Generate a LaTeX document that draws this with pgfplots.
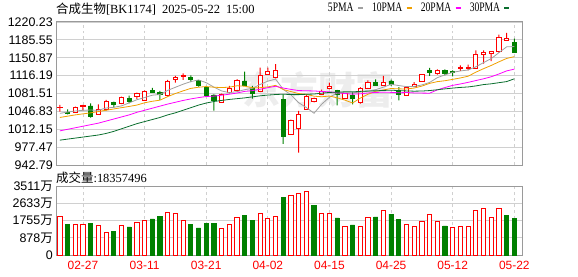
\documentclass[border=0pt]{standalone}
\usepackage{pgfplots}
\pgfplotsset{compat=1.18}
\usepackage{pgfplotstable}
\usepackage{fontspec}
\setmainfont{Liberation Serif}
\newfontfamily\cjk{Noto Sans CJK SC}
\newfontfamily\narrow[FakeStretch=0.74]{Liberation Serif}
\newfontfamily\tickfont{Liberation Sans}

\definecolor{kred}{HTML}{FF0000}
\definecolor{kgreen}{HTML}{008000}
\definecolor{maA}{HTML}{A0A0A0}
\definecolor{maB}{HTML}{F0A000}
\definecolor{maC}{HTML}{FF00FF}
\definecolor{maD}{HTML}{0A6E2E}
\definecolor{gridc}{HTML}{D0D0D0}
\definecolor{framec}{HTML}{9A9A9A}

% red (rising) candles: index, open, high, low, close
\pgfplotstableread{
i O H L C
0 1053.5 1059.2 1046.3 1054.5
2 1045.6 1056.0 1044.3 1054.7
3 1056.0 1059.2 1048.2 1058.6
5 1041.1 1060.5 1040.5 1051.4
6 1050.8 1068.9 1048.2 1065.7
8 1062.4 1075.4 1061.1 1073.4
10 1075.4 1083.1 1070.8 1081.8
11 1068.9 1087.7 1067.6 1086.4
14 1077.3 1107.7 1075.4 1105.1
15 1109.6 1115.5 1102.5 1112.2
16 1114.8 1120.6 1107.7 1116.1
21 1065.0 1081.2 1063.7 1079.2
22 1083.1 1096.1 1081.8 1091.5
23 1088.3 1109.6 1086.4 1107.7
26 1086.4 1131.6 1084.4 1116.8
27 1119.3 1131.6 1118.0 1123.9
28 1112.9 1138.7 1110.9 1127.1
30 1002.4 1031.0 1001.0 1029.5
31 1013.2 1047.6 966.7 1040.4
32 1050.8 1078.6 1049.5 1076.7
33 1066.4 1073.4 1064.4 1071.4
34 1080.0 1089.0 1078.6 1086.4
35 1090.9 1102.5 1089.6 1096.1
37 1071.4 1082.0 1070.8 1081.0
39 1065.0 1094.1 1061.8 1092.2
40 1092.2 1107.1 1091.0 1103.8
42 1097.4 1115.5 1096.1 1103.8
45 1078.0 1095.4 1076.7 1094.1
46 1095.4 1103.8 1094.1 1098.6
47 1105.1 1119.3 1104.5 1118.7
49 1120.0 1128.4 1118.0 1126.5
52 1129.6 1136.2 1125.2 1131.6
53 1131.0 1137.5 1126.5 1132.9
54 1131.0 1165.3 1129.7 1157.5
55 1156.9 1165.3 1139.4 1162.0
56 1158.8 1162.5 1144.1 1162.5
57 1163.3 1195.7 1160.7 1190.0
58 1184.7 1198.9 1183.4 1188.8
}\redK

% green (falling) candles
\pgfplotstableread{
i O H L C
1 1045.6 1050.8 1041.1 1043.0
4 1057.3 1062.4 1034.6 1036.6
7 1064.4 1065.7 1054.7 1060.5
9 1071.5 1077.3 1062.4 1065.7
12 1087.0 1092.2 1083.1 1083.8
13 1083.1 1086.4 1068.9 1080.5
17 1112.2 1116.8 1103.8 1109.0
18 1107.1 1107.7 1094.8 1096.7
19 1093.5 1096.1 1075.4 1078.6
20 1078.6 1079.9 1048.2 1068.9
24 1105.8 1123.9 1096.1 1097.4
25 1091.5 1096.1 1071.5 1081.8
29 1070.8 1079.9 984.0 997.8
36 1087.7 1088.3 1058.6 1080.5
38 1078.0 1084.4 1060.5 1071.4
41 1103.8 1109.0 1096.1 1097.4
43 1105.8 1108.4 1096.1 1099.4
44 1087.7 1094.1 1068.2 1079.9
48 1126.5 1131.0 1115.5 1123.2
50 1126.5 1128.4 1116.8 1121.3
51 1124.5 1126.5 1114.8 1123.2
59 1181.4 1187.9 1160.7 1160.7
}\greenK

% moving averages
\pgfplotstableread{
i m5 m10 m20 m30
0 1043.0 1035.0 1009.0 991.0
1 1045.5 1037.5 1012.0 993.0
2 1047.5 1040.0 1015.0 995.0
3 1049.0 1042.0 1018.0 997.0
4 1049.4 1044.0 1021.0 999.0
5 1048.9 1046.5 1024.0 1001.0
6 1053.4 1049.0 1028.0 1004.0
7 1054.6 1051.5 1032.0 1008.0
8 1057.5 1054.0 1036.0 1013.0
9 1063.3 1056.4 1040.0 1018.0
10 1069.4 1059.1 1045.0 1023.0
11 1073.6 1063.5 1049.0 1027.0
12 1078.2 1066.4 1053.0 1031.0
13 1079.6 1068.6 1057.0 1035.0
14 1087.5 1075.4 1061.0 1040.0
15 1093.6 1081.5 1064.5 1044.0
16 1099.5 1086.6 1068.0 1049.0
17 1104.6 1091.4 1071.0 1054.0
18 1107.8 1093.7 1073.5 1059.0
19 1102.5 1095.0 1075.7 1063.0
20 1093.9 1093.7 1076.4 1066.0
21 1086.5 1093.0 1078.2 1068.0
22 1083.0 1093.8 1080.1 1070.0
23 1085.2 1096.5 1082.5 1071.5
24 1088.9 1095.7 1085.6 1073.0
25 1091.5 1092.7 1087.1 1075.0
26 1099.0 1092.8 1089.7 1077.0
27 1105.5 1094.3 1092.8 1078.5
28 1109.4 1097.3 1095.5 1079.5
29 1089.5 1089.2 1092.1 1080.2
30 1079.0 1085.3 1089.5 1079.4
31 1063.7 1081.4 1087.2 1079.3
32 1054.3 1079.9 1086.8 1080.0
33 1043.2 1076.3 1086.4 1080.5
34 1060.9 1075.2 1085.5 1082.1
35 1074.2 1076.6 1084.7 1083.6
36 1082.4 1073.1 1082.9 1084.1
37 1083.0 1068.7 1081.5 1084.8
38 1083.0 1063.1 1080.2 1084.7
39 1084.2 1072.5 1080.9 1085.6
40 1085.7 1080.0 1082.6 1086.3
41 1089.0 1085.7 1083.5 1086.7
42 1093.7 1088.4 1084.1 1087.4
43 1099.3 1091.2 1083.7 1088.0
44 1096.9 1090.5 1082.9 1087.1
45 1094.9 1090.3 1083.5 1086.5
46 1095.2 1092.1 1082.6 1086.0
47 1098.1 1095.9 1082.3 1086.3
48 1102.9 1101.1 1082.1 1087.2
49 1112.2 1104.5 1088.5 1088.8
50 1117.7 1106.3 1093.1 1090.5
51 1122.6 1108.9 1097.3 1092.0
52 1125.2 1111.7 1100.0 1093.3
53 1127.1 1115.0 1103.1 1094.2
54 1133.3 1122.8 1106.6 1096.2
55 1141.4 1129.6 1110.0 1098.8
56 1149.2 1135.9 1114.0 1100.3
57 1160.7 1142.9 1119.4 1102.5
58 1172.0 1149.5 1125.3 1104.6
59 1172.6 1153.0 1128.8 1110.0
}\maT

% volume (10k shares), red = close up vs previous close
\pgfplotstableread{
i v
0 1967
2 1560
3 1560
5 1510
6 1153
8 1510
10 1679
11 1781
14 2171
15 2120
16 1781
21 1357
22 1560
23 1917
26 2120
27 1866
28 1967
30 3036
31 3138
32 3240
34 2120
35 2120
37 1459
39 1459
40 1917
42 2273
45 1560
46 1459
47 1713
48 2069
49 1713
51 1408
52 1459
53 1459
54 2273
55 2375
56 1917
57 2375
}\redV

\pgfplotstableread{
i v
1 1577
4 1628
7 1221
9 1425
12 1832
13 1984
17 1577
18 1374
19 1628
20 1628
24 2035
25 1781
29 2951
33 2544
36 1883
38 1527
41 1934
43 2086
44 1815
50 1476
58 2035
59 1836
}\greenV

\pgfplotsset{
  pricebase/.style={scale only axis, width=466bp, height=143bp,
    at={(56bp,111bp)}, anchor=south west,
    xmin=-0.5, xmax=60, ymin=942.79, ymax=1220.23},
  tl/.style={font=\tickfont\fontsize{12.5}{12.5}\selectfont},
}

\begin{document}
\begin{tikzpicture}[x=1bp,y=1bp]
\useasboundingbox (0,0) rectangle (578,276);

% faint watermark
\node[text=black!7, font=\cjk\bfseries\fontsize{38}{38}\selectfont] at (318,186) {东方财富};

% price frame and grid
\begin{axis}[pricebase,
  axis line style={framec, line width=1bp},
  major tick length=0pt,
  xtick={3,11,...,59}, xticklabels={},
  ytick={942.79,977.47,1012.15,1046.83,1081.51,1116.19,1150.87,1185.55,1220.23},
  yticklabels={942.79,977.47,1012.15,1046.83,1081.51,1116.19,1150.87,1185.55,1220.23},
  yticklabel style={tl, anchor=east, inner sep=0pt, xshift=-3bp},
  xmajorgrids, ymajorgrids,
  x grid style={gridc, dashed, line width=0.9bp},
  y grid style={gridc, line width=0.9bp},
]
\addplot[draw=none] coordinates {(0,1000)};
\end{axis}

% red candles
\begin{axis}[pricebase, hide axis, ybar stacked]
\addplot[draw=none, fill=none, bar width=1bp] table[x=i, y=L] \redK;
\addplot[draw=none, fill=kred, bar width=1bp] table[x=i, y expr=\thisrow{O}-\thisrow{L}] \redK;
\addplot[draw=kred, fill=white, line width=0.9bp, bar width=4.2bp] table[x=i, y expr=\thisrow{C}-\thisrow{O}] \redK;
\addplot[draw=none, fill=kred, bar width=1bp] table[x=i, y expr=\thisrow{H}-\thisrow{C}] \redK;
\end{axis}

% green candles
\begin{axis}[pricebase, hide axis, ybar stacked]
\addplot[draw=none, fill=none, bar width=1bp] table[x=i, y=L] \greenK;
\addplot[draw=none, fill=kgreen, bar width=1bp] table[x=i, y expr=\thisrow{C}-\thisrow{L}] \greenK;
\addplot[draw=kgreen, fill=kgreen, line width=0.9bp, bar width=4.2bp] table[x=i, y expr=\thisrow{O}-\thisrow{C}] \greenK;
\addplot[draw=none, fill=kgreen, bar width=1bp] table[x=i, y expr=\thisrow{H}-\thisrow{O}] \greenK;
\end{axis}

% moving averages with legend
\begin{axis}[pricebase, hide axis,
  legend plot pos=right,
  legend columns=4,
  legend image code/.code={\draw[#1, line width=2.5bp] (0bp,0bp) -- (5bp,0bp);},
  legend style={draw=none, fill=none, at={(0.976,1.098)}, anchor=east,
    inner sep=0pt, nodes={inner sep=0pt},
    font=\narrow\fontsize{13}{13}\selectfont,
    /tikz/every odd column/.append style={column sep=3bp},
    /tikz/every even column/.append style={column sep=8bp}},
]
\addplot[maA, line width=0.8bp, mark=none] table[x=i, y=m5] \maT;
\addplot[maB, line width=0.8bp, mark=none] table[x=i, y=m10] \maT;
\addplot[maC, line width=0.8bp, mark=none] table[x=i, y=m20] \maT;
\addplot[maD, line width=0.8bp, mark=none] table[x=i, y=m30] \maT;
\legend{5PMA,10PMA,20PMA,30PMA}
\end{axis}

% volume panel
\begin{axis}[scale only axis, width=466bp, height=69bp,
  at={(56bp,21bp)}, anchor=south west,
  xmin=-0.5, xmax=60, ymin=0, ymax=3511,
  axis line style={framec, line width=1bp},
  major tick length=0pt,
  xtick={3,11,...,59},
  xticklabels={02-27,03-11,03-21,04-02,04-15,04-25,05-12,05-22},
  xticklabel style={text=kred, anchor=north, inner sep=0pt, yshift=-6bp,
    font=\tickfont\fontsize{12}{12}\selectfont},
  ytick={0,877.75,1755.5,2633.25,3511},
  yticklabels={0,{878{\cjk 万}},{1755{\cjk 万}},{2633{\cjk 万}},{3511{\cjk 万}}},
  yticklabel style={tl, anchor=east, inner sep=0pt, xshift=-3bp},
  xmajorgrids, ymajorgrids,
  x grid style={gridc, dashed, line width=0.9bp},
  y grid style={gridc, line width=0.9bp},
]
\addplot[ybar, bar width=4.2bp, bar shift=0pt, draw=kred, fill=white, line width=0.9bp] table[x=i, y=v] \redV;
\addplot[ybar, bar width=4.2bp, bar shift=0pt, draw=kgreen, fill=kgreen, line width=0.9bp] table[x=i, y=v] \greenV;
\end{axis}

% titles
\node[anchor=west, inner sep=0pt, font=\fontsize{12.5}{12.5}\selectfont] at (56,267)
  {{\cjk 合成生物}[BK1174]\hspace{6bp}2025-05-22\hspace{6bp}15:00};
\node[anchor=west, inner sep=0pt, font=\fontsize{12.5}{12.5}\selectfont] at (56,98)
  {{\cjk 成交量}:18357496};
\end{tikzpicture}
\end{document}
